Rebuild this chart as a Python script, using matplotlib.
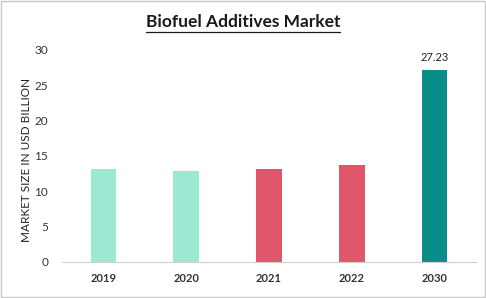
import matplotlib.pyplot as plt
from matplotlib.patches import Rectangle

years = ["2019", "2020", "2021", "2022", "2030"]
market_size = [13.17, 12.93, 13.2, 13.7, 27.23]
bar_colors = ["#9BE8D3", "#9BE8D3", "#E0566A", "#E0566A", "#0A8C88"]
yticks = [0, 5, 10, 15, 20, 25, 30]

plt.rcParams['font.family'] = ['Lato', 'DejaVu Sans']

fig = plt.figure(figsize=(4.86, 2.98), dpi=100)
ax = fig.add_axes([62/486, 1 - 262/298, 414/486, 212/298])

x = range(len(years))
bars = ax.bar(x, market_size, width=0.31, color=bar_colors, edgecolor="none")

# only the 2030 forecast gets a value label
last = bars[-1]
ax.text(last.get_x() + last.get_width() / 2, market_size[-1] + 0.9,
        f"{market_size[-1]:.2f}", ha='center', va='bottom', fontsize=8, color="#222222")

ax.set_xlim(-0.5, len(years) - 0.5)
ax.set_ylim(0, 30)
ax.set_xticks(list(x))
ax.set_xticklabels(years, fontsize=8, fontweight='bold', color="#333333")
ax.set_yticks(yticks)
ax.set_yticklabels([str(t) for t in yticks], fontsize=8.5, color="#333333")
ax.tick_params(axis='both', length=0)
ax.tick_params(axis='x', pad=8)
ax.tick_params(axis='y', pad=10)

for side in ['top', 'right', 'left']:
    ax.spines[side].set_visible(False)
ax.spines['bottom'].set_color("#D0D0D0")
ax.spines['bottom'].set_linewidth(0.8)

ax.set_ylabel("MARKET SIZE IN USD BILLION", fontsize=8.5, color="#222222")
ax.yaxis.set_label_coords(-0.072, 0.48)

title = fig.text(0.5, 1 - 22/298, "Biofuel Additives Market", ha='center', va='center',
                 fontsize=12.5, fontweight='bold', color="#1a1a1a")

# underline under the title, sized to the text
fig.canvas.draw()
bb = title.get_window_extent().transformed(fig.transFigure.inverted())
uy = bb.y0 - 1.5/298
fig.add_artist(plt.Line2D([bb.x0, bb.x1], [uy, uy], color="#1a1a1a", linewidth=0.9))

# light frame around the whole picture
fig.add_artist(Rectangle((0.002, 0.003), 0.995, 0.993, transform=fig.transFigure,
                         fill=False, edgecolor="#C8C8C8", linewidth=1.0))

fig.savefig("out.png", dpi=100)
